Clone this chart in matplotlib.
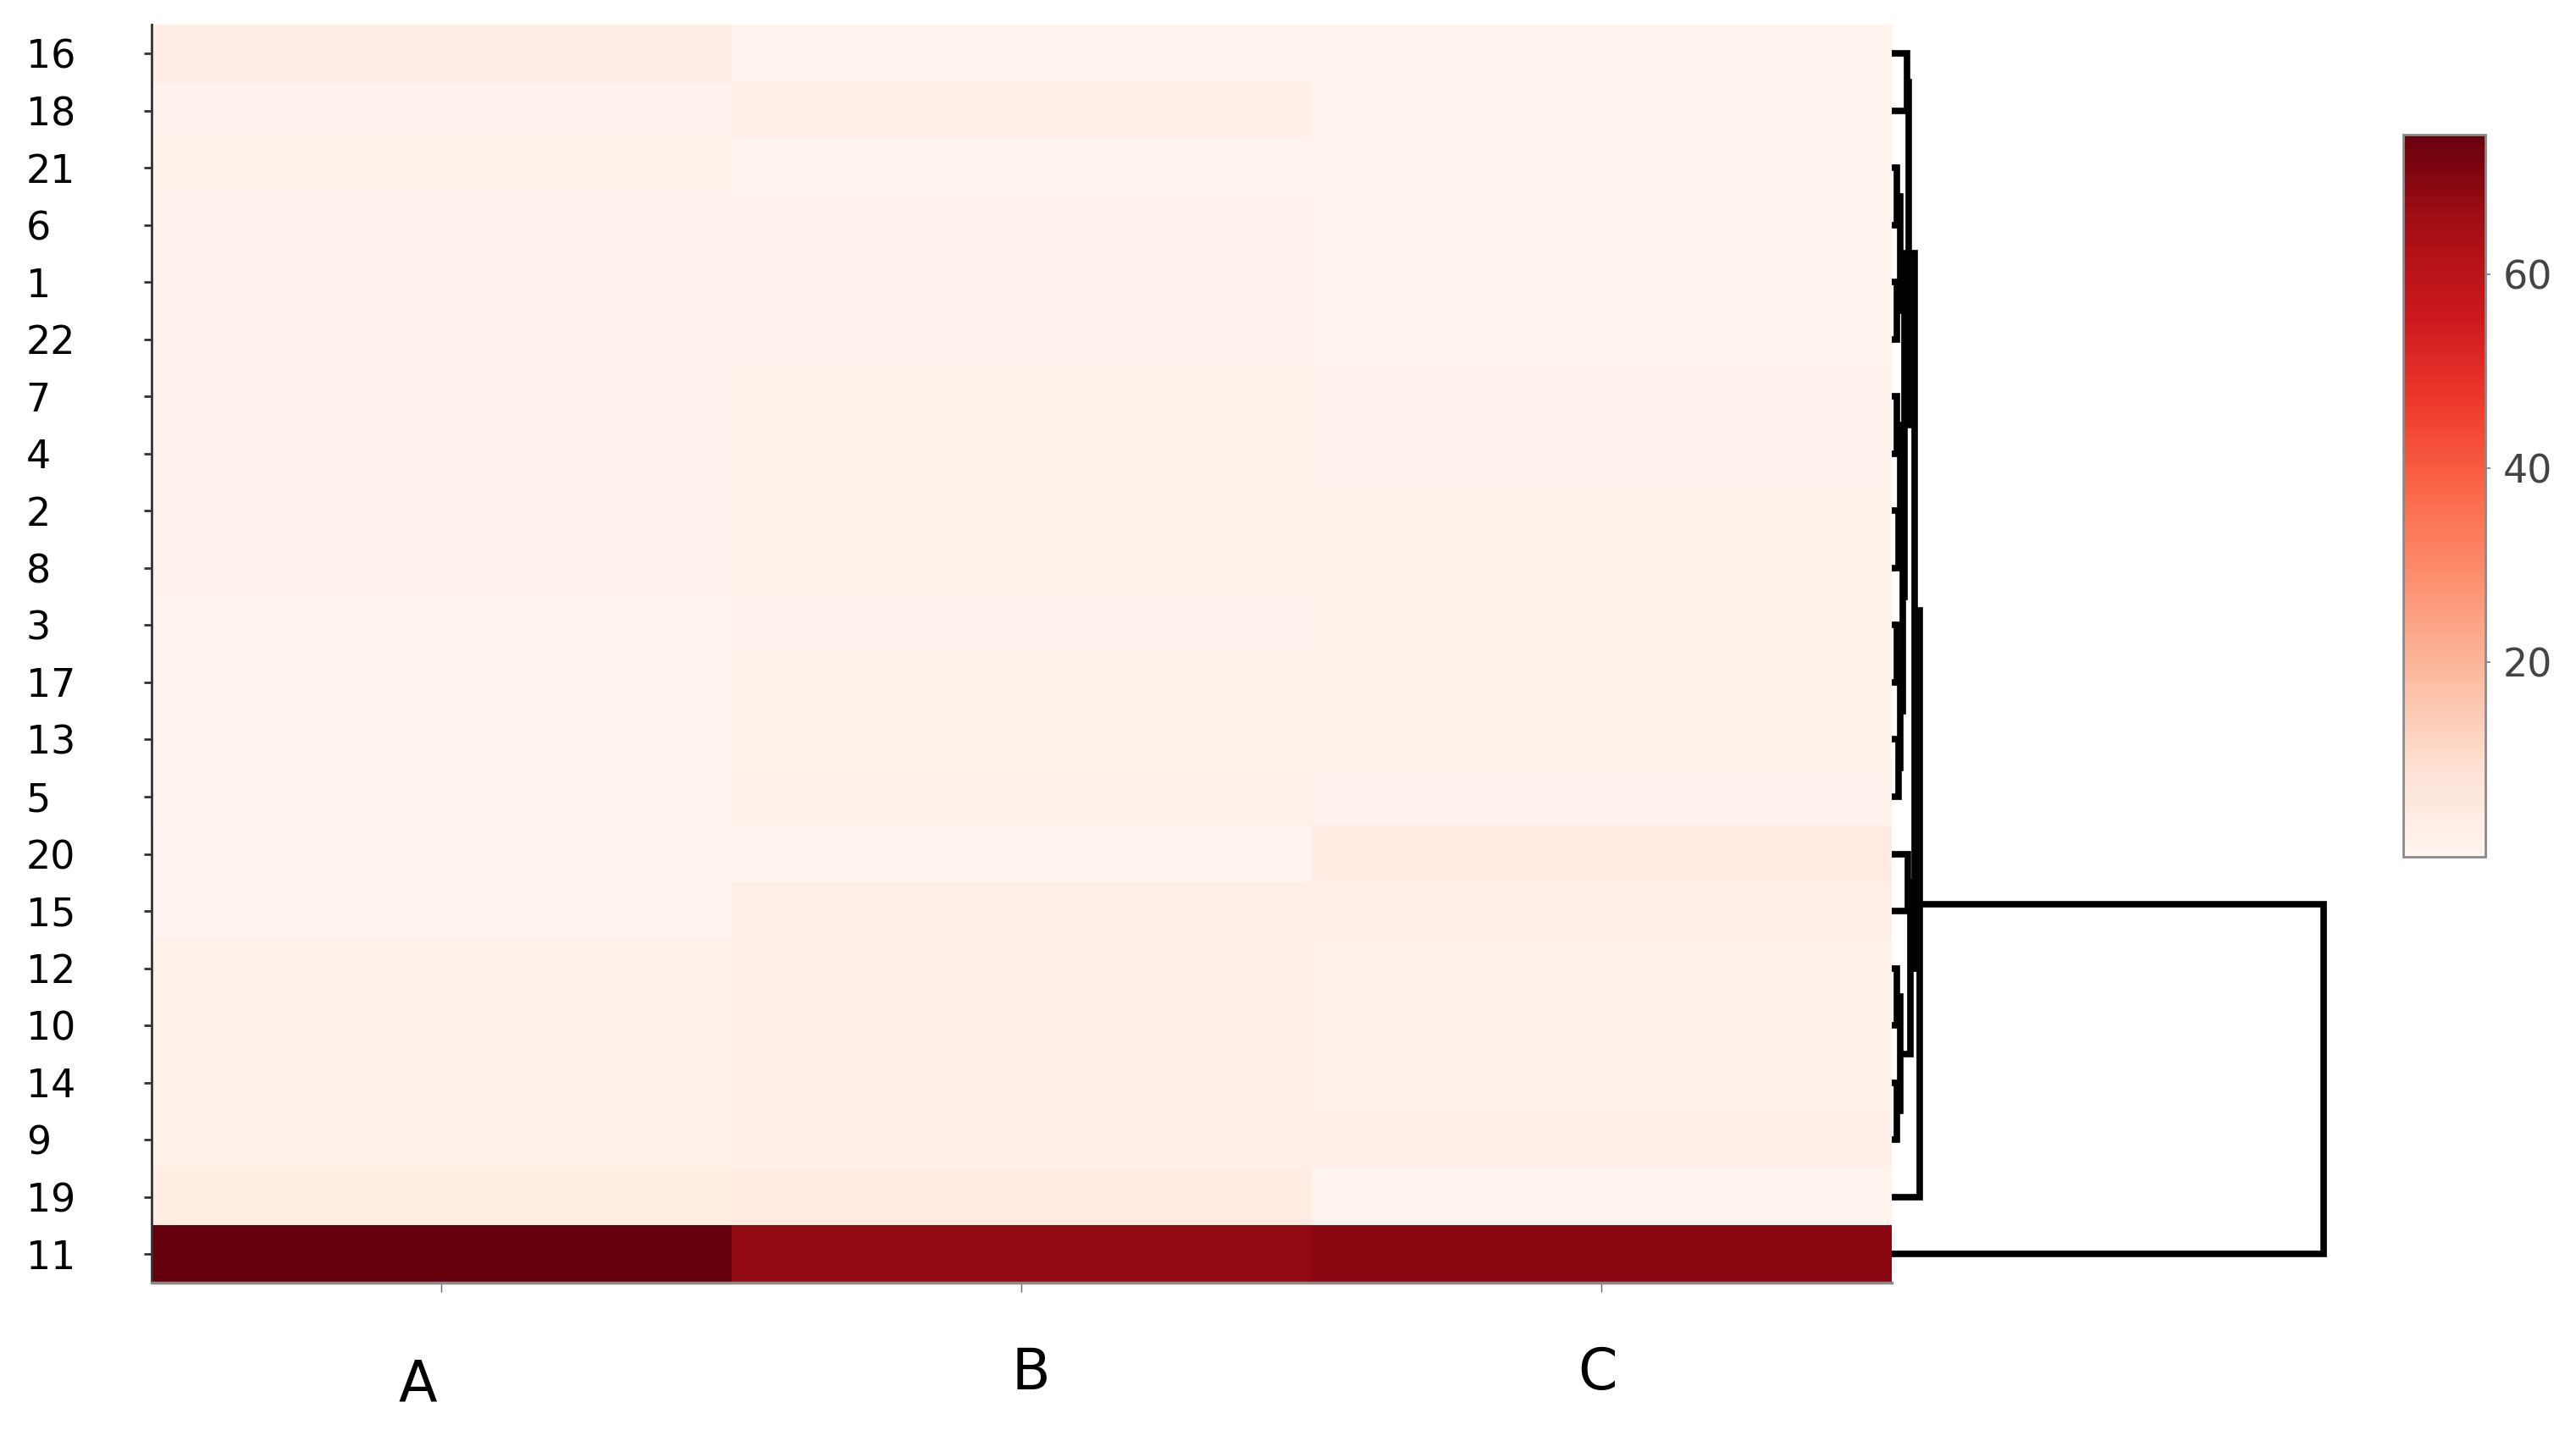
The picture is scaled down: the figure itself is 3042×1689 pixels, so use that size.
import matplotlib
matplotlib.use('Agg')
import numpy as np
import matplotlib.pyplot as plt
from matplotlib import font_manager
from matplotlib.transforms import blended_transform_factory

# ---- dados (ordem das linhas como aparece no gráfico, de cima para baixo) ----
row_labels = [16, 18, 21, 6, 1, 22, 7, 4, 2, 8, 3, 17, 13, 5, 20, 15, 12, 10, 14, 9, 19, 11]
col_labels = ['A', 'B', 'C']

val_A = [3.8, 1.2, 1.5, 1.2, 1.2, 1.2, 1.2, 1.2, 1.2, 1.2, 1.1, 1.0, 1.0, 1.0,
         0.4, 0.4, 2.4, 2.4, 2.5, 2.6, 4.3, 74.4]
val_B = [0.8, 2.8, 1.0, 1.3, 1.3, 1.4, 1.6, 1.6, 1.5, 1.5, 1.4, 1.5, 1.6, 2.5,
         0.3, 3.0, 3.0, 3.0, 3.0, 2.8, 4.5, 68.0]
val_C = [1.0, 1.0, 1.0, 1.0, 1.1, 1.1, 1.2, 1.2, 1.6, 1.6, 1.5, 1.5, 1.5, 1.4,
         4.5, 3.0, 2.6, 2.6, 2.6, 2.8, 1.0, 69.0]

# ligações do dendrograma (estilo scipy: folhas 0..21 = posição na lista acima,
# agrupamentos a partir de 22)
merge_left = [0, 2, 4, 6, 8, 10, 12, 23, 25, 27, 30, 29, 22, 14, 16, 18, 36, 35, 34, 40, 41]
merge_right = [1, 3, 5, 7, 9, 11, 13, 24, 26, 28, 31, 32, 33, 15, 17, 19, 37, 38, 39, 20, 21]
merge_height = [3.6, 1.2, 1.2, 1.2, 1.6, 1.2, 1.6, 2.0, 2.0, 2.0, 2.6, 3.0, 4.0,
                3.8, 1.2, 1.2, 2.0, 4.4, 5.3, 6.5, 100.0]

cbar_ticks = [20, 40, 60]

# ---- fonte estreita para A, B, C se existir ----
nomes_fontes = {f.name for f in font_manager.fontManager.ttflist}
fonte_col = 'Liberation Sans Narrow' if 'Liberation Sans Narrow' in nomes_fontes else 'DejaVu Sans'

dados = np.column_stack([val_A, val_B, val_C])
n_rows = len(row_labels)
n_cols = len(col_labels)

fig = plt.figure(figsize=(30.42, 16.89), dpi=100)
fig.patch.set_facecolor('white')

# ---- heatmap ----
ax = fig.add_axes([0.0587, 0.103, 0.6757, 0.8797])
mesh = ax.pcolormesh(np.arange(n_cols + 1), np.arange(n_rows + 1), dados,
                     cmap='Reds', vmin=0, vmax=max(val_A))
ax.set_xlim(0, n_cols)
ax.set_ylim(n_rows, 0)

for lado in ['top', 'right']:
    ax.spines[lado].set_visible(False)
ax.spines['left'].set_color('#333333')
ax.spines['left'].set_linewidth(2)
ax.spines['bottom'].set_color('#8a8a8a')
ax.spines['bottom'].set_linewidth(2.5)

ax.set_yticks(np.arange(n_rows) + 0.5)
ax.set_yticklabels([str(r) for r in row_labels], fontsize=33, color='black')
for lbl in ax.get_yticklabels():
    lbl.set_ha('left')
ax.tick_params(axis='y', length=6.5, width=2, color='#333333', pad=100)

ax.set_xticks(np.arange(n_cols) + 0.5)
ax.set_xticklabels([])
ax.tick_params(axis='x', length=8, width=1, color='#666666')

# rótulos das colunas (um pouco desalinhados como no original)
nudge_x = [-0.04, 0.016, -0.007]
label_y = [0.0308, 0.0397, 0.0397]
trans = blended_transform_factory(ax.transData, fig.transFigure)
for i, c in enumerate(col_labels):
    ax.text(i + 0.5 + nudge_x[i], label_y[i], c, transform=trans, ha='center', va='center',
            fontsize=48, family=[fonte_col, 'DejaVu Sans'], color='black')

# ---- dendrograma à direita ----
axd = fig.add_axes([0.7344, 0.103, 0.1677, 0.8797])
axd.set_xlim(0, 100)
axd.set_ylim(n_rows, 0)
axd.axis('off')

pos = {i: i + 0.5 for i in range(n_rows)}
alt = {i: 0.0 for i in range(n_rows)}
for k, (a, b, h) in enumerate(zip(merge_left, merge_right, merge_height)):
    cid = n_rows + k
    axd.plot([alt[a], h, h, alt[b]], [pos[a], pos[a], pos[b], pos[b]],
             color='black', lw=5.5, solid_joinstyle='miter', solid_capstyle='butt',
             clip_on=False)
    pos[cid] = (pos[a] + pos[b]) / 2
    alt[cid] = h

# ---- barra de cores ----
cax = fig.add_axes([0.933, 0.401, 0.0319, 0.505])
cb = fig.colorbar(mesh, cax=cax, ticks=cbar_ticks)
cb.outline.set_edgecolor('#8a8a8a')
cb.outline.set_linewidth(2)
cax.tick_params(length=4, width=1.2, color='#777777', labelsize=33, labelcolor='#444444', pad=11)

fig.savefig('out.png', dpi=100, facecolor='white')
